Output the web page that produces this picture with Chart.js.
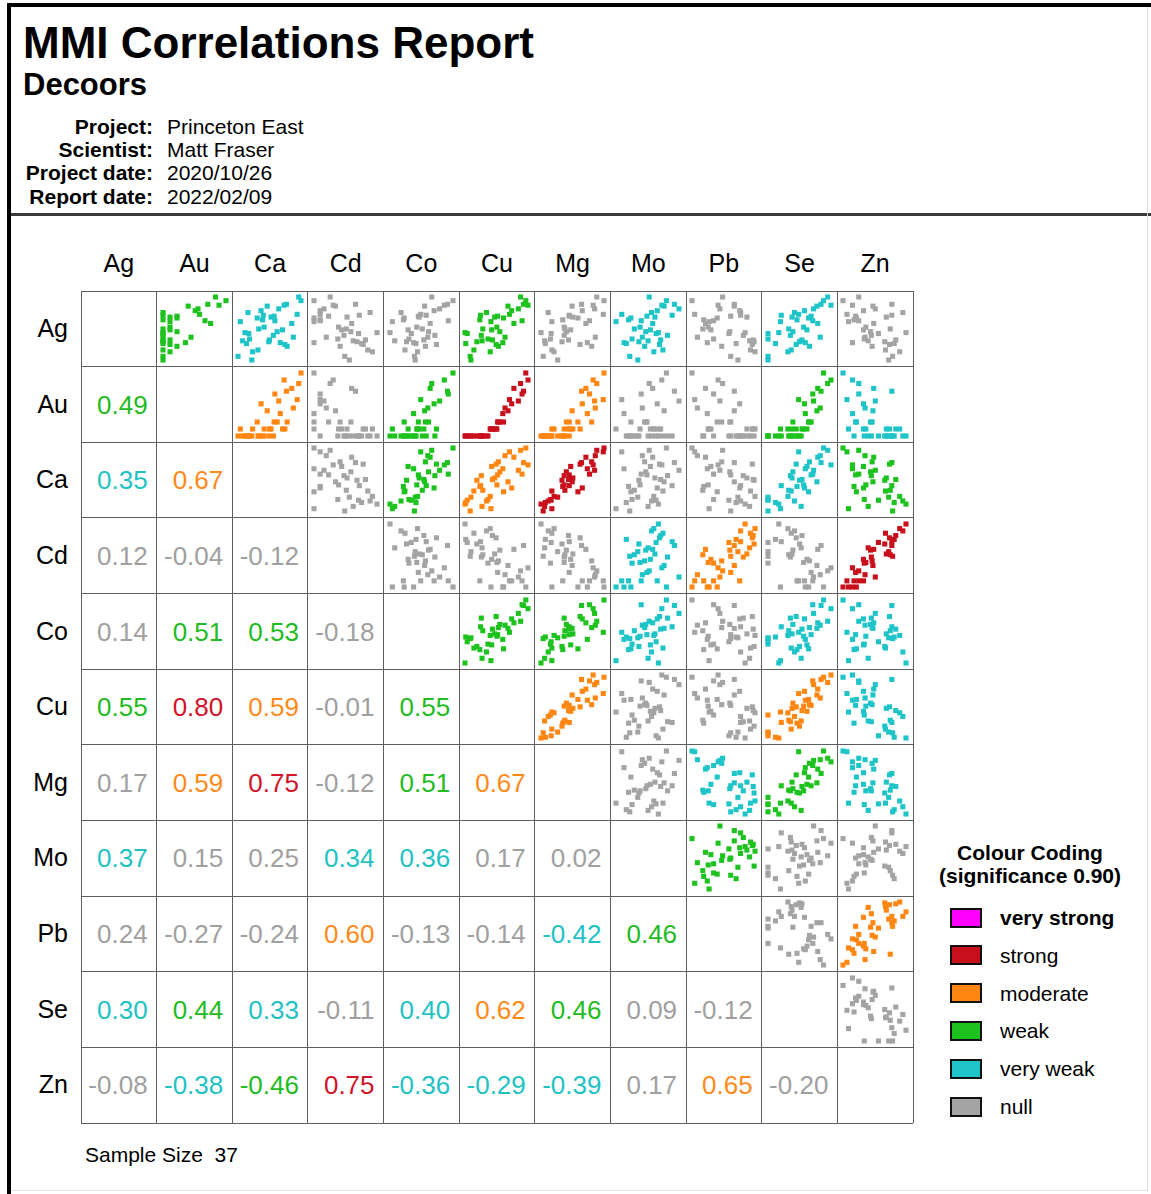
<!DOCTYPE html>
<html><head><meta charset="utf-8">
<script src="https://cdn.jsdelivr.net/npm/chart.js@4.4.1/dist/chart.umd.min.js"></script>
<style>
html,body{margin:0;padding:0;background:#fff;}
body{width:1151px;height:1194px;position:relative;overflow:hidden;font-family:"Liberation Sans",Arial,Helvetica,sans-serif;color:#000;}
.abs{position:absolute;white-space:nowrap;}
canvas{position:absolute;}
</style></head><body>
<script>
// ---- data ----
const elements = ['Ag','Au','Ca','Cd','Co','Cu','Mg','Mo','Pb','Se','Zn'];
const Ag = [4.3,6.0,3.1,5.8,7.5,1.8,4.7,2.3,8.3,4.1,5.6,5.4,2.5,6.8,3.9,6.3,5.0,4.4,5.7,1.4,7.4,3.3,6.1,3.5,6.4,3.6,7.3,4.8,2.9,6.6,7.9,4.5,3.2,6.2,3.7,7.0,3.4];
const Au = [1,3,2,1,7.4,1,2,2,8.5,1,2,7.8,1,5.6,5.0,1,2,1,7.0,1,9.0,4.2,2,1,6.2,2,4.6,1,3,1,10,3,1,3,1,6.0,1];
const Ca = [2.7,3.8,7.4,4.5,7.6,1.3,7.1,3.2,9.2,5.9,1.6,8.3,3.9,4.3,8.5,4.6,4.7,2.2,6.1,3.1,7.3,6.8,5.6,1.9,9.0,5.4,5.1,4.0,7.7,2.6,9.5,6.4,2.4,6.0,2.8,6.6,5.3];
const Cd = [6.8,1.0,7.4,1.8,6.4,5.0,4.6,8.6,3.1,4.9,1.0,5.9,8.0,1.8,2.6,6.9,4.2,9.2,1.8,5.6,3.5,1.0,5.3,6.1,1.8,7.7,3.8,5.2,4.4,8.3,1.0,5.8,7.2,2.9,4.1,2.3,6.6];
const Co = [4.1,3.2,7.3,3.1,8.7,4.5,3.7,4.9,6.7,7.1,1.7,6.5,3.3,7.0,6.2,6.0,4.8,1.4,8.8,4.6,8.3,4.4,5.1,2.0,5.3,5.7,5.8,5.5,5.9,2.8,9.4,6.3,4.7,5.0,3.8,7.7,3.5];
const Cu = [1.5,6.4,5.4,3.2,9.1,1.9,4.8,4.6,8.7,3.4,4.7,7.8,2.4,7.5,6.6,3.3,5.5,1.2,8.9,2.0,9.7,6.3,5.2,3.5,7.2,4.9,7.0,3.6,5.7,4.1,9.4,5.9,1.3,5.6,4.3,8.4,2.8];
const Mg = [2.6,6.3,6.6,4.2,6.8,1.5,5.3,3.0,8.9,4.4,2.7,7.4,2.7,6.9,8.7,5.1,4.4,1.2,7.9,3.5,8.4,7.6,5.6,1.7,9.8,5.0,5.5,4.5,8.2,2.2,9.9,4.7,1.8,5.1,2.5,8.6,4.1];
const Mo = [6.1,3.9,6.4,3.7,7.7,3.8,5.6,5.9,5.5,7.1,2.6,5.8,6.7,6.2,4.9,7.5,4.7,6.3,4.8,4.5,6.6,3.3,6.0,5.4,3.1,6.5,6.8,4.2,5.1,5.7,7.0,5.2,3.5,5.3,4.0,8.1,4.6];
const Pb = [5.6,4.3,8.2,2.8,6.2,5.8,3.6,8.5,4.9,7.2,3.4,3.0,8.0,6.8,2.1,6.9,3.3,7.4,3.9,6.6,4.4,3.2,7.6,7.9,1.8,8.3,6.2,2.7,4.8,6.9,1.5,5.7,6.4,5.8,3.9,4.6,8.4];
const Se = [1.0,5.9,4.4,4.5,7.4,1.0,5.7,3.4,8.2,3.7,2.5,7.0,3.8,5.4,7.3,2.6,5.3,2.3,6.4,1.0,8.6,5.5,3.9,5.0,4.7,5.1,6.9,3.5,6.0,4.2,7.7,4.0,1.9,6.2,1.0,6.5,4.8];
const Zn = [6.3,3.5,7.7,3.2,8.0,8.1,4.4,9.0,3.8,5.4,2.5,5.7,7.2,4.4,4.6,8.0,4.7,9.8,3.8,7.6,3.0,3.0,7.3,5.0,2.3,8.5,5.6,7.8,5.5,9.4,1.8,5.3,8.3,3.4,4.5,5.9,7.1];

// lower-triangle correlation coefficients (row element vs earlier column elements)
const corrAg = [];
const corrAu = [0.49];
const corrCa = [0.35,0.67];
const corrCd = [0.12,-0.04,-0.12];
const corrCo = [0.14,0.51,0.53,-0.18];
const corrCu = [0.55,0.80,0.59,-0.01,0.55];
const corrMg = [0.17,0.59,0.75,-0.12,0.51,0.67];
const corrMo = [0.37,0.15,0.25,0.34,0.36,0.17,0.02];
const corrPb = [0.24,-0.27,-0.24,0.60,-0.13,-0.14,-0.42,0.46];
const corrSe = [0.30,0.44,0.33,-0.11,0.40,0.62,0.46,0.09,-0.12];
const corrZn = [-0.08,-0.38,-0.46,0.75,-0.36,-0.29,-0.39,0.17,0.65,-0.20];

const categories = ['very strong','strong','moderate','weak','very weak','null'];
const categoryLimits = [0.90,0.70,0.57,0.43,0.285,0];
const sampleSize = 37;

// ---- styles ----
const catColors = ['#ff00ff','#c8101c','#ff8612','#1ec21e','#1fc4c8','#a4a4a4'];
const textColors = ['#ff00ff','#d0142a','#ff8a1a','#22bb22','#22c2c4','#a0a0a0'];

const values = [Ag,Au,Ca,Cd,Co,Cu,Mg,Mo,Pb,Se,Zn];
const corr = [corrAg,corrAu,corrCa,corrCd,corrCo,corrCu,corrMg,corrMo,corrPb,corrSe,corrZn];

function cat(r){ const a=Math.abs(r); for(let i=0;i<categoryLimits.length;i++){ if(a>=categoryLimits[i]) return i; } return 5; }

const body = document.body;
function el(tag, css, text){ const e=document.createElement(tag); e.className='abs'; Object.assign(e.style, css); if(text!==undefined) e.textContent=text; body.appendChild(e); return e; }

// frame
el('div',{left:'7px',top:'3px',width:'1144px',height:'4px',background:'#000'});
el('div',{left:'7px',top:'3px',width:'4px',height:'1191px',background:'#000'});
el('div',{left:'11px',top:'213px',width:'1140px',height:'3px',background:'#3a3a3a'});
el('div',{left:'1147px',top:'7px',width:'1px',height:'1185px',background:'#dcdcdc'});
el('div',{left:'11px',top:'1190px',width:'1137px',height:'1px',background:'#e2e2e2'});

// header
el('div',{left:'23px',top:'21px',fontSize:'44px',lineHeight:'44px',fontWeight:'bold'},'MMI Correlations Report');
el('div',{left:'23px',top:'69px',fontSize:'31px',lineHeight:'31px',fontWeight:'bold'},'Decoors');
const infoLabels = ['Project:','Scientist:','Project date:','Report date:'];
const infoValues = ['Princeton East','Matt Fraser','2020/10/26','2022/02/09'];
infoLabels.forEach((t,i)=>{
  const top = 116 + i*23.2;
  el('div',{left:'0px',width:'153px',textAlign:'right',top:top+'px',fontSize:'21px',lineHeight:'21px',fontWeight:'bold'},t);
  el('div',{left:'167px',top:top+'px',fontSize:'21px',lineHeight:'21px'},infoValues[i]);
});

// grid geometry
const gx0=81, gy0=291, cs=(913-81)/11;
const n = elements.length;
for(let k=0;k<=n;k++){
  el('div',{left:(gx0+k*cs-0.5)+'px',top:gy0+'px',width:'1px',height:(cs*n)+'px',background:'#5e5e5e'});
  el('div',{left:gx0+'px',top:(gy0+k*cs-0.5)+'px',width:(cs*n)+'px',height:'1px',background:'#5e5e5e'});
}
// labels
elements.forEach((name,i)=>{
  el('div',{left:(gx0+i*cs)+'px',width:cs+'px',textAlign:'center',top:'243px',height:'40px',lineHeight:'40px',fontSize:'25px'},name);
  el('div',{left:'0px',width:'68px',textAlign:'right',top:(gy0+i*cs)+'px',height:cs+'px',lineHeight:cs+'px',fontSize:'25px'},name);
});
// lower triangle text
for(let i=0;i<n;i++){
  corr[i].forEach((r,j)=>{
    el('div',{left:(gx0+j*cs)+'px',width:(cs-9)+'px',textAlign:'right',top:(gy0+i*cs)+'px',height:cs+'px',lineHeight:(cs+1)+'px',fontSize:'26px',color:textColors[cat(r)]},r.toFixed(2));
  });
}
// upper triangle scatter plots
function range(a){ return [Math.min(...a), Math.max(...a)]; }
for(let i=0;i<n;i++){
  for(let j=i+1;j<n;j++){
    const r = corr[j][i];
    const color = catColors[cat(r)];
    const xs = values[j], ys = values[i];
    const pts = xs.map((x,k)=>({x:x,y:ys[k]}));
    const [x0,x1]=range(xs), [y0,y1]=range(ys);
    const c = document.createElement('canvas');
    const size = Math.floor(cs)-2;
    c.width=size; c.height=size;
    c.style.left=(gx0+j*cs+1)+'px'; c.style.top=(gy0+i*cs+1)+'px';
    c.style.width=size+'px'; c.style.height=size+'px';
    body.appendChild(c);
    new Chart(c,{type:'scatter',
      data:{datasets:[{data:pts,backgroundColor:color,borderWidth:0,pointStyle:'rect',pointRadius:3.6,pointHoverRadius:3.6,clip:false}]},
      options:{responsive:false,animation:false,events:[],devicePixelRatio:1,
        layout:{padding:5},
        plugins:{legend:{display:false},tooltip:{enabled:false}},
        scales:{x:{display:false,min:x0,max:x1},y:{display:false,min:y0,max:y1}}}});
  }
}
// legend
el('div',{left:'925px',width:'210px',textAlign:'center',top:'841px',fontSize:'21px',lineHeight:'23px',fontWeight:'bold'},'Colour Coding');
el('div',{left:'925px',width:'210px',textAlign:'center',top:'864px',fontSize:'21px',lineHeight:'23px',fontWeight:'bold'},'(significance 0.90)');
categories.forEach((name,i)=>{
  const cy = 917 + i*37.8;
  el('div',{left:'950px',top:(cy-9.5)+'px',width:'28px',height:'16px',background:catColors[i],border:'2px solid #111'});
  el('div',{left:'1000px',top:(cy-14)+'px',height:'30px',lineHeight:'30px',fontSize:'21px',fontWeight:i===0?'bold':'normal'},name);
});
el('div',{left:'85px',top:'1143px',fontSize:'21px',lineHeight:'24px',whiteSpace:'pre'},'Sample Size  '+sampleSize);
</script>
</body></html>
